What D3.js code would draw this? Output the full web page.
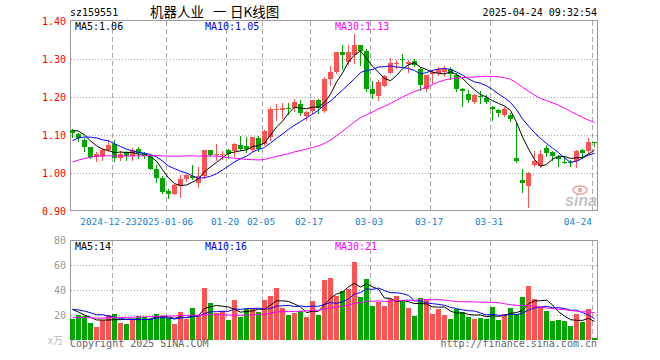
<!DOCTYPE html>
<html>
<head>
<meta charset="utf-8">
<script src="https://cdn.jsdelivr.net/npm/d3@7"></script>
<style>
  html, body { margin: 0; padding: 0; background: #fff; }
  svg { display: block; }
  text { font-family: "DejaVu Sans Mono", monospace; font-size: 10px; }
</style>
</head>
<body>
<svg id="chart" width="660" height="360"></svg>
<script>
// trading days shown on the chart
const dates = [
  '2024-12-12','2024-12-13','2024-12-16','2024-12-17','2024-12-18','2024-12-19','2024-12-20','2024-12-23',
  '2024-12-24','2024-12-25','2024-12-26','2024-12-27','2024-12-30','2024-12-31','2025-01-02','2025-01-03',
  '2025-01-06','2025-01-07','2025-01-08','2025-01-09','2025-01-10','2025-01-13','2025-01-14','2025-01-15',
  '2025-01-16','2025-01-17','2025-01-20','2025-01-21','2025-01-22','2025-01-23','2025-01-24','2025-01-27',
  '2025-02-05','2025-02-06','2025-02-07','2025-02-10','2025-02-11','2025-02-12','2025-02-13','2025-02-14',
  '2025-02-17','2025-02-18','2025-02-19','2025-02-20','2025-02-21','2025-02-24','2025-02-25','2025-02-26',
  '2025-02-27','2025-02-28','2025-03-03','2025-03-04','2025-03-05','2025-03-06','2025-03-07','2025-03-10',
  '2025-03-11','2025-03-12','2025-03-13','2025-03-14','2025-03-17','2025-03-18','2025-03-19','2025-03-20',
  '2025-03-21','2025-03-24','2025-03-25','2025-03-26','2025-03-27','2025-03-28','2025-03-31','2025-04-01',
  '2025-04-02','2025-04-03','2025-04-07','2025-04-08','2025-04-09','2025-04-10','2025-04-11','2025-04-14',
  '2025-04-15','2025-04-16','2025-04-17','2025-04-18','2025-04-21','2025-04-22','2025-04-23','2025-04-24'
];

const open = [
  1.113,1.103,1.088,1.068,1.042,1.046,1.060,1.077,1.039,1.055,1.044,1.064,1.051,1.044,1.011,0.988,
  0.953,0.946,0.967,0.983,0.992,0.974,0.991,1.061,1.049,1.047,1.061,1.057,1.075,1.072,1.060,1.092,
  1.077,1.096,1.165,1.166,1.171,1.171,1.182,1.151,1.162,1.191,1.162,1.248,1.265,1.319,1.291,1.311,
  1.336,1.320,1.221,1.202,1.230,1.263,1.287,1.301,1.287,1.296,1.275,1.221,1.261,1.263,1.265,1.274,
  1.259,1.222,1.209,1.186,1.202,1.197,1.174,1.167,1.153,1.153,1.039,0.982,0.965,1.022,1.018,1.066,
  1.056,1.041,1.029,1.030,1.031,1.060,1.057,1.082
];
const high = [
  1.117,1.105,1.092,1.068,1.055,1.066,1.088,1.088,1.057,1.057,1.065,1.068,1.056,1.047,1.022,0.991,
  0.958,0.972,0.994,0.997,1.022,1.015,1.061,1.061,1.077,1.058,1.063,1.079,1.097,1.095,1.096,1.098,
  1.114,1.173,1.182,1.184,1.185,1.195,1.191,1.162,1.193,1.195,1.252,1.281,1.319,1.336,1.336,1.367,
  1.338,1.325,1.241,1.246,1.259,1.302,1.298,1.312,1.298,1.300,1.279,1.259,1.270,1.279,1.282,1.278,
  1.263,1.224,1.219,1.209,1.215,1.206,1.175,1.169,1.173,1.159,1.132,1.010,1.002,1.059,1.061,1.074,
  1.059,1.048,1.044,1.033,1.061,1.063,1.091,1.082
];
const low = [
  1.095,1.083,1.057,1.039,1.031,1.034,1.058,1.032,1.035,1.033,1.034,1.040,1.039,1.010,0.976,0.947,
  0.933,0.944,0.936,0.978,0.985,0.962,0.988,1.044,1.035,1.036,1.039,1.046,1.061,1.056,1.057,1.057,
  1.075,1.088,1.140,1.145,1.156,1.162,1.153,1.139,1.158,1.158,1.160,1.232,1.263,1.274,1.287,1.289,
  1.285,1.215,1.197,1.191,1.228,1.263,1.276,1.281,1.266,1.281,1.219,1.215,1.236,1.259,1.254,1.247,
  1.217,1.176,1.186,1.183,1.184,1.183,1.139,1.151,1.151,1.137,1.028,0.949,0.911,1.018,1.016,1.046,
  1.034,1.018,1.027,1.018,1.016,1.039,1.053,1.072
];
const close = [
  1.105,1.092,1.068,1.042,1.051,1.060,1.075,1.039,1.051,1.044,1.061,1.053,1.044,1.011,0.987,0.949,
  0.946,0.968,0.985,0.994,0.987,0.991,1.061,1.048,1.051,1.050,1.050,1.077,1.064,1.063,1.094,1.063,
  1.110,1.169,1.169,1.170,1.169,1.188,1.158,1.160,1.191,1.171,1.248,1.267,1.319,1.311,1.319,1.336,
  1.320,1.221,1.209,1.239,1.256,1.289,1.289,1.298,1.291,1.283,1.232,1.257,1.265,1.275,1.274,1.261,
  1.222,1.215,1.193,1.204,1.199,1.187,1.168,1.158,1.169,1.142,1.031,0.975,1.000,1.032,1.051,1.053,
  1.046,1.038,1.028,1.028,1.059,1.053,1.082,1.080
];
// volume, 万
const volume = [
  16.5,20,19.2,13.9,10.7,16,20,20.8,13.9,12.8,16.5,19.5,18.7,16.5,20.8,19.2,
  17.3,12.8,22.4,17,25.6,19.2,41.6,29.6,21.9,22.9,16,32,18.7,24.5,25.6,22.4,
  32,35.2,41.6,25.6,19.7,21.9,23.5,18.7,31.2,19.7,48,49.6,35.2,39.5,40.5,62.4,
  34.1,48.5,27.2,30.7,27.2,33.1,35.2,32,25.9,19.5,33.6,32.8,20.8,24.8,20,17.1,
  24.8,22.1,18.7,17.1,17.9,17.1,26.4,16.3,20.8,25.9,20.5,34.4,43.2,32.8,26.1,23.2,
  15.0,16.3,15.2,11.5,20.8,14.7,24.8,1.9
];
// 29 sessions before the window, estimated from where the MA lines start
const prevClose = [
  0.94,0.945,0.95,0.965,1.04,1.05,1.06,1.05,1.055,1.05,1.045,1.05,
  0.99,0.98,0.97,0.975,0.97,0.98,0.975,0.98,1.02,1.04,1.05,1.07,1.11,1.10,1.12,1.12,1.115
];
const prevVolume = [
  22,21,20,19,14,13,12,14,13,12,15,14,13,12,14,13,15,14,12,16,25,28,27,26.5,16,31,30.7,23,21.3
];

const tickDates = ['2024-12-23','2025-01-06','2025-01-20','2025-02-05','2025-02-17','2025-03-03','2025-03-17','2025-03-31','2025-04-24'];
const tickLabels = ['2024-12-23','2025-01-06','01-20','02-05','02-17','03-03','03-17','03-31','04-24'];
const priceTicks = [1.40, 1.30, 1.20, 1.10, 1.00, 0.90];
const volTicks = [80, 60, 40, 20];

const RED = '#ff5252', GREEN = '#00a600', GRID = '#aaa', FRAME = '#999';

const svg = d3.select('#chart');
const left = 70, right = 597;

const x = d3.scaleBand().domain(dates).range([left, right]).paddingInner(1 / 6).paddingOuter(0);
const y = d3.scaleLinear().domain([0.9, 1.4]).range([211, 21]);
const yv = d3.scaleLinear().domain([0, 80]).range([340, 240]);
const cx = d => x(d) + 2.5;

function movingAvg(vals, prev, n) {
  const all = prev.concat(vals);
  return vals.map((v, i) => d3.mean(all.slice(i + prev.length - n + 1, i + prev.length + 1)));
}

const rows = dates.map((d, i) => ({ d, o: open[i], h: high[i], l: low[i], c: close[i], v: volume[i] }));
const colorOf = r => (r.c >= r.o ? RED : GREEN);

// ---- header
svg.append('text').attr('x', 70).attr('y', 16).text('sz159551');
const title = svg.append('text').attr('y', 17)
  .style('font-family', '"Noto Sans CJK SC", sans-serif').style('font-size', '13.5px');
title.append('tspan').attr('x', 150).text('机器人业');
title.append('tspan').attr('x', 213).text('一');
title.append('tspan').attr('x', 230).text('日K线图');
svg.append('text').attr('x', 597).attr('y', 16).attr('text-anchor', 'end').text('2025-04-24 09:32:54');

// ---- grids
const gridMain = svg.append('g');
gridMain.selectAll('line.h')
  .data(priceTicks.filter(v => v < 1.39 && v > 0.91))
  .join('line')
  .attr('x1', left + 1).attr('x2', right)
  .attr('y1', v => Math.round(y(v)) + 0.5).attr('y2', v => Math.round(y(v)) + 0.5)
  .attr('stroke', GRID).attr('stroke-dasharray', '1,2');
gridMain.selectAll('line.hv')
  .data(volTicks.filter(v => v < 80))
  .join('line')
  .attr('x1', left + 1).attr('x2', right)
  .attr('y1', v => Math.round(yv(v)) + 0.5).attr('y2', v => Math.round(yv(v)) + 0.5)
  .attr('stroke', GRID).attr('stroke-dasharray', '1,2');

[[21, 210], [241, 340]].forEach(([y1, y2]) => {
  svg.append('g').selectAll('line')
    .data(tickDates)
    .join('line')
    .attr('x1', d => x(d) + 0.5).attr('x2', d => x(d) + 0.5)
    .attr('y1', y1).attr('y2', y2)
    .attr('stroke', GRID).attr('stroke-dasharray', '5,3');
});

// ---- frames
svg.append('rect').attr('x', 70.5).attr('y', 20.5).attr('width', 527).attr('height', 190)
  .attr('fill', 'none').attr('stroke', FRAME);
svg.append('path').attr('d', 'M70.5,340V240.5H597.5V340')
  .attr('fill', 'none').attr('stroke', FRAME);

// ---- axes labels
svg.append('g').selectAll('text')
  .data(priceTicks)
  .join('text')
  .attr('x', 66).attr('y', v => y(v)).attr('dy', '0.35em')
  .attr('text-anchor', 'end').attr('fill', '#f00')
  .text(d3.format('.2f'));

svg.append('g').selectAll('text')
  .data(volTicks)
  .join('text')
  .attr('x', 66).attr('y', v => yv(v)).attr('dy', '0.35em')
  .attr('text-anchor', 'end').attr('fill', '#999')
  .text(v => v);

// date labels: centred on the grid line, pushed left when they would collide
const xLabels = svg.append('g').selectAll('text')
  .data(tickDates)
  .join('text')
  .attr('y', 225)
  .attr('fill', '#1a82d2')
  .style('font-size', '9.4px')
  .text((d, i) => tickLabels[i]);
const spans = [];
xLabels.each(function (d) {
  const w = this.getComputedTextLength();
  let s = x(d) - 1 - w / 2;
  if (s + w > right - 5) s = right - 5 - w;
  spans.push([s, w]);
});
for (let i = spans.length - 2; i >= 0; i--) {
  const over = spans[i][0] + spans[i][1] - spans[i + 1][0];
  if (over > 0) spans[i][0] -= over;
}
xLabels.attr('x', (d, i) => spans[i][0]);

// ---- candles
const candles = svg.append('g').selectAll('g').data(rows).join('g');
candles.append('line')
  .attr('x1', r => cx(r.d)).attr('x2', r => cx(r.d))
  .attr('y1', r => Math.round(y(r.h))).attr('y2', r => Math.round(y(r.l)) + 1)
  .attr('stroke', colorOf);
candles.append('rect')
  .attr('x', r => x(r.d)).attr('width', x.bandwidth())
  .attr('y', r => Math.round(y(Math.max(r.o, r.c))))
  .attr('height', r => Math.max(1, Math.round(y(Math.min(r.o, r.c))) - Math.round(y(Math.max(r.o, r.c)))))
  .attr('fill', colorOf);

// ---- volume bars
svg.append('g').selectAll('rect')
  .data(rows)
  .join('rect')
  .attr('x', r => x(r.d)).attr('width', x.bandwidth())
  .attr('y', r => Math.round(yv(r.v)))
  .attr('height', r => 340 - Math.round(yv(r.v)))
  .attr('fill', colorOf);

// ---- moving averages
const maDefs = [[5, '#000'], [10, '#0000ff'], [30, '#ff00ff']];
const legendX = [75, 205, 335];

maDefs.forEach(([n, col], k) => {
  const mp = movingAvg(close, prevClose, n);
  const mv = movingAvg(volume, prevVolume, n);
  svg.append('path').datum(mp)
    .attr('fill', 'none').attr('stroke', col).attr('stroke-width', 1)
    .attr('d', d3.line().x((v, i) => cx(dates[i])).y(v => y(v)));
  svg.append('path').datum(mv)
    .attr('fill', 'none').attr('stroke', col).attr('stroke-width', 1)
    .attr('d', d3.line().x((v, i) => cx(dates[i])).y(v => yv(v)));
  svg.append('text').attr('x', legendX[k]).attr('y', 30).attr('fill', col)
    .text(`MA${n}:${d3.format('.2f')(mp[mp.length - 1])}`);
  svg.append('text').attr('x', legendX[k]).attr('y', 249.5).attr('fill', col)
    .text(`MA${n}:${Math.floor(mv[mv.length - 1])}`);
});

// ---- sina watermark
const wm = svg.append('g').attr('opacity', 0.75);
wm.append('ellipse').attr('cx', 580).attr('cy', 190).attr('rx', 7).attr('ry', 4)
  .attr('fill', 'none').attr('stroke', '#f08080').attr('stroke-width', 1.5);
wm.append('circle').attr('cx', 580).attr('cy', 190).attr('r', 2.2).attr('fill', '#f08080');
wm.append('text').attr('x', 565).attr('y', 206)
  .style('font-family', '"Liberation Sans", sans-serif').style('font-size', '16px')
  .style('font-weight', 'bold').style('font-style', 'italic')
  .attr('fill', '#b0b0b0').text('sina');

// ---- footer
svg.append('text').attr('x', 48).attr('y', 344).attr('fill', '#bbb')
  .style('font-family', '"Noto Sans CJK SC", sans-serif').style('font-size', '10px')
  .text('x万');
svg.append('text').attr('x', 70).attr('y', 347).attr('fill', '#666').text('Copyright 2025 SINA.COM');
svg.append('text').attr('x', 597).attr('y', 347).attr('fill', '#666').attr('text-anchor', 'end')
  .text('http://finance.sina.com.cn');
</script>
</body>
</html>
